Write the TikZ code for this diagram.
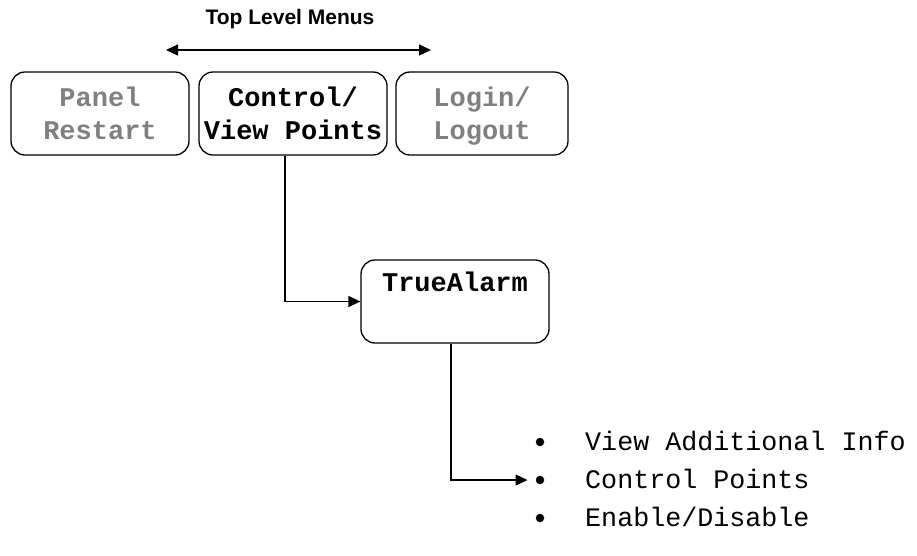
\documentclass[tikz,border=0pt]{standalone}
\usepackage{fontspec}
\setmainfont{Liberation Sans}
\newfontfamily\mono{Liberation Mono}
\usetikzlibrary{arrows.meta}
\definecolor{greytxt}{HTML}{808080}
\newcommand\mytopstrut{\rule[-9.9pt]{0pt}{38pt}}
\tikzset{
  menubox/.style={draw=black, line width=1.3pt, rounded corners=14pt, minimum height=83pt, align=center, font=\mono\bfseries\fontsize{27}{33}\selectfont, inner sep=0pt},
  conn/.style={line width=1.3pt, -{Triangle[length=12pt,width=11pt]}},
  itemtxt/.style={font=\mono\fontsize{26.7}{30}\selectfont, anchor=base west, inner sep=0pt},
  bul/.style={circle, fill=black, inner sep=0pt, minimum size=8.5pt}
}
\begin{document}
\begin{tikzpicture}[x=1pt,y=-1pt]
\useasboundingbox (0,0) rectangle (917,555);
\node[font=\bfseries\fontsize{21}{24}\selectfont] (title) at (290,19) {Top Level Menus};
\coordinate (al) at (166,50);
\coordinate (ar) at (431,50);
\draw[line width=1.3pt, {Triangle[length=12pt,width=11pt]}-{Triangle[length=12pt,width=11pt]}] (al) -- (ar);
\node[menubox, minimum width=178pt, text=greytxt] (panel) at (100,113.5) {\mytopstrut Panel\\\strut Restart};
\node[menubox, minimum width=188pt] (ctrl) at (293,113.5) {\mytopstrut Control/\\\strut View Points};
\node[menubox, minimum width=172pt, text=greytxt] (login) at (482,113.5) {\mytopstrut Login/\\\strut Logout};
\node[draw=black, line width=1.3pt, rounded corners=14pt, minimum width=188pt, minimum height=83pt, inner sep=0pt] (ta) at (455,301.5) {};
\node[font=\mono\bfseries\fontsize{27}{30}\selectfont, anchor=base] (tatext) at (455,291) {TrueAlarm};
\node[bul] (b1) at (540,442) {};
\node[bul] (b2) at (540,480) {};
\node[bul] (b3) at (540,518) {};
\node[itemtxt] (t1) at (585,450) {View Additional Info};
\node[itemtxt] (t2) at (585,488) {Control Points};
\node[itemtxt] (t3) at (585,526) {Enable/Disable};
\draw[conn] (ctrl.south -| 285,0) |- (ta.west);
\draw[conn] (ta.south -| 451,0) |- ([xshift=-8pt]b2.west);
\end{tikzpicture}
\end{document}
